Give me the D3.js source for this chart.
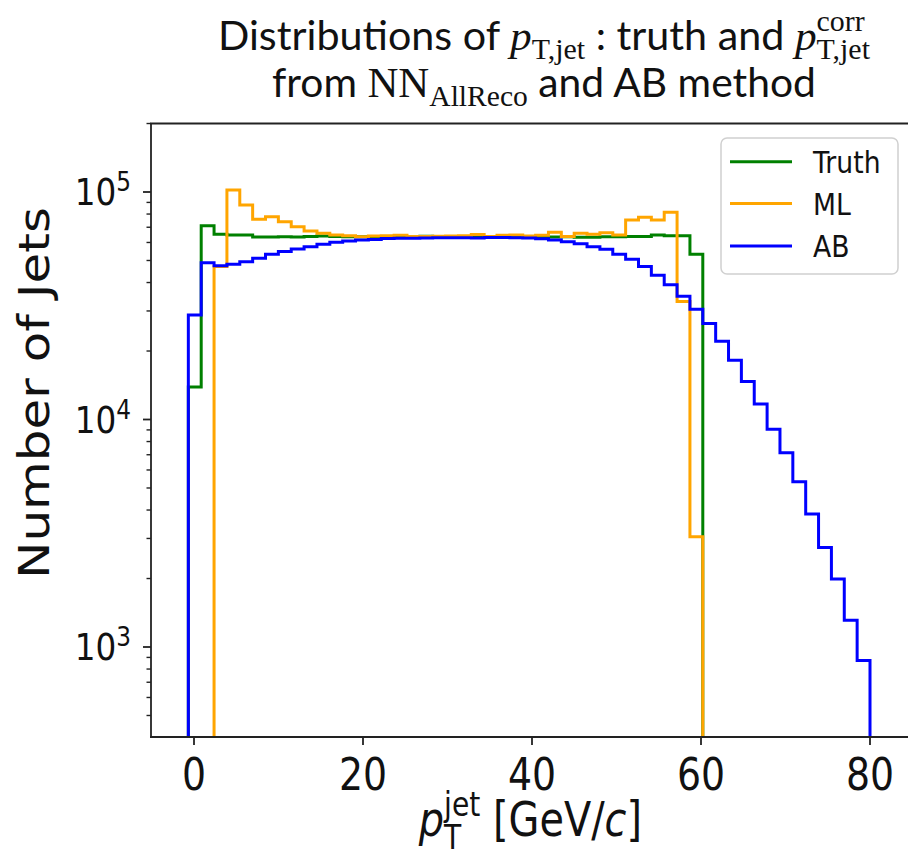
<!DOCTYPE html>
<html><head><meta charset="utf-8">
<script src="https://cdn.jsdelivr.net/npm/d3@7"></script>
<style>body{margin:0;background:#fff} svg{display:block} text{white-space:pre}</style>
</head><body>
<svg id="chart" width="908" height="853"></svg>
<script>
// ---------- data ----------
const binStart = -0.67, binEnd = 80.0, nBins = 53;
const truthCounts = [13900,71000,65200,64700,64700,63400,63400,63600,63400,63800,
  64000,63700,63500,63600,63800,63500,63700,63600,63900,63500,
  63700,63600,63500,63700,63600,63400,63600,63500,63400,63500,
  63300,63200,63600,63600,63700,63700,64700,64200,64200,53200,
  0,0,0,0,0,0,0,0,0,0,0,0,0];
const mlCounts = [0,0,47000,102000,87700,75900,77800,74000,70300,67400,
  65800,64700,64300,63600,64000,64300,64500,63800,63700,63900,
  64000,64300,65000,63700,64500,64700,64000,64500,66600,63700,
  65800,65200,66200,64700,75300,77400,75300,81500,33000,3050,
  0,0,0,0,0,0,0,0,0,0,0,0,0];
const abCounts = [28800,48900,47400,48100,49400,51100,53300,54700,56100,57500,
  58900,60100,60900,61500,61900,62400,62600,62600,62800,63000,
  63000,62900,62800,63100,63100,62900,62700,62300,61500,60500,
  59300,57500,56000,53200,50600,47100,43100,39100,34800,30500,
  26400,22100,18200,14700,11700,9070,7150,5320,3840,2740,
  1990,1310,873];
const seriesNames = ["Truth","ML","AB"];
const seriesColors = ["green","orange","blue"];
const xTicks = [0,20,40,60,80];
const yTickExps = [3,4,5];

// ---------- setup ----------
const svg = d3.select("#chart");
const C = 0.86; // horizontal squeeze of the original figure
const x = d3.scaleLinear().domain([0,80]).range([194,870]);
const y = d3.scaleLog().domain([1e3,1e5]).range([647,192]);
const L = 151, R = 910, T = 123.5, B = 737;
const edges = d3.range(nBins+1).map(i => binStart + i*(binEnd-binStart)/nBins);

svg.append("defs").append("clipPath").attr("id","clip")
  .append("rect").attr("x",L).attr("y",T).attr("width",R-L).attr("height",B-T);

// ---------- histograms ----------
const allSeries = [truthCounts, mlCounts, abCounts];
const line = d3.line().x(d=>d[0]).y(d=>d[1]).curve(d3.curveLinear);
const below = B + 20;
allSeries.forEach((counts,si) => {
  const pts = [[x(edges[0]), below]];
  counts.forEach((v,i) => {
    const yy = v>0 ? y(v) : below;
    pts.push([x(edges[i]), yy],[x(edges[i+1]), yy]);
  });
  pts.push([x(edges[nBins]), below]);
  svg.append("path").attr("clip-path","url(#clip)")
    .attr("d", line(pts)).attr("fill","none")
    .attr("stroke", seriesColors[si]).attr("stroke-width",3)
    .attr("stroke-linejoin","miter");
});

// ---------- frame & ticks ----------
const ax = svg.append("g").attr("stroke","#222").attr("stroke-width",1.8);
ax.append("line").attr("x1",L).attr("x2",L).attr("y1",T).attr("y2",B+0.9);
ax.append("line").attr("x1",L-0.9).attr("x2",R).attr("y1",B).attr("y2",B);
ax.append("line").attr("x1",L-0.9).attr("x2",R).attr("y1",T).attr("y2",T);
xTicks.forEach(t => ax.append("line").attr("x1",x(t)).attr("x2",x(t)).attr("y1",B).attr("y2",B+8));
yTickExps.forEach(e => ax.append("line").attr("x1",L-8).attr("x2",L).attr("y1",y(Math.pow(10,e))).attr("y2",y(Math.pow(10,e))));
const yDomLo = y.invert(B), yDomHi = y.invert(T);
[2,3].forEach(e => d3.range(1,10).forEach(m => {
  const v = m*Math.pow(10,e);
  if (m===1 || v<yDomLo || v>yDomHi) return;
  ax.append("line").attr("x1",L-4.5).attr("x2",L).attr("y1",y(v)).attr("y2",y(v)).attr("stroke-width",1.4);
}));
[4,5].forEach(e => d3.range(2,10).forEach(m => {
  const v = m*Math.pow(10,e);
  if (v<yDomLo || v>yDomHi) return;
  ax.append("line").attr("x1",L-4.5).attr("x2",L).attr("y1",y(v)).attr("y2",y(v)).attr("stroke-width",1.4);
}));

// ---------- text helper ----------
function build(parent, segs) {
  const g = parent.append("g");
  let cx = 0;
  function add(s, at) {
    const t = g.append("text").attr("x",at).attr("y",s.dy||0)
      .attr("font-family", s.f).attr("font-size", s.size)
      .attr("font-style", s.it ? "italic":"normal").attr("fill","#111").text(s.t);
    return t.node().getComputedTextLength();
  }
  segs.forEach(s => {
    if (s.stack) { const w1 = add(s.sub,cx), w2 = add(s.sup,cx); cx += Math.max(w1,w2); }
    else cx += add(s,cx);
  });
  return g;
}
function fit(g, left, right, baseline) {
  const bb = g.node().getBBox();
  const sx = (right-left)/bb.width;
  g.attr("transform", `translate(${left - bb.x*sx},${baseline}) scale(${sx},1)`);
}
function place(g, anchorX, baseline, align) {
  const bb = g.node().getBBox();
  let off = align==="middle" ? bb.x + bb.width/2 : align==="end" ? bb.x+bb.width : bb.x;
  g.attr("transform", `translate(${anchorX - off*C},${baseline}) scale(${C},1)`);
}

// ---------- tick labels ----------
const DJ = "DejaVu Sans";
xTicks.forEach(t => {
  const g = build(svg, [{t:String(t), f:DJ, size:44}]);
  place(g, x(t), 790, "middle");
});
yTickExps.forEach(e => {
  const g = build(svg, [{t:"10", f:DJ, size:38},{t:String(e), f:DJ, size:27, dy:-14}]);
  place(g, 131, y(Math.pow(10,e)) + 13, "end");
});

// ---------- axis labels ----------
const xl = build(svg, [
  {t:"p", f:DJ, size:48, it:true},
  {stack:true, sub:{t:"T", f:DJ, size:34, dy:13}, sup:{t:"jet", f:DJ, size:34, dy:-20}},
  {t:" [GeV/", f:DJ, size:48},{t:"c", f:DJ, size:48, it:true},{t:"]", f:DJ, size:48}]);
fit(xl, 418, 642, 836);

svg.append("text").attr("transform",`translate(49,393) scale(${C},1) rotate(-90)`)
  .attr("text-anchor","middle").attr("font-family",DJ).attr("font-size",50)
  .attr("fill","#111").text("Number of Jets");

// ---------- title ----------
const TF = "Lato", MF = "Liberation Serif";
const t1 = build(svg, [
  {t:"Distributions of ", f:TF, size:40},
  {t:"p", f:MF, size:42, it:true},
  {t:"T,jet", f:MF, size:29, dy:9},
  {t:" : truth and ", f:TF, size:40},
  {t:"p", f:MF, size:42, it:true},
  {stack:true, sub:{t:"T,jet", f:MF, size:29, dy:9}, sup:{t:"corr", f:MF, size:29, dy:-19}}]);
fit(t1, 218, 870, 50);
const t2 = build(svg, [
  {t:"from ", f:TF, size:40},
  {t:"NN", f:MF, size:42},
  {t:"AllReco", f:MF, size:29, dy:9},
  {t:" and AB method", f:TF, size:40}]);
fit(t2, 272, 816, 97);

// ---------- legend ----------
const lg = svg.append("g");
lg.append("rect").attr("x",721).attr("y",138).attr("width",177).attr("height",136)
  .attr("rx",6).attr("fill","#fff").attr("fill-opacity",0.8)
  .attr("stroke","#d0d0d0").attr("stroke-width",1.5);
const legY = [161.7, 203.5, 246];
seriesNames.forEach((n,i) => {
  lg.append("line").attr("x1",730).attr("x2",792).attr("y1",legY[i]).attr("y2",legY[i])
    .attr("stroke",seriesColors[i]).attr("stroke-width",3);
  lg.append("text").attr("transform",`translate(813,${legY[i]+11}) scale(${C},1)`)
    .attr("font-family",DJ).attr("font-size",31).attr("fill","#111").text(n);
});
</script>
</body></html>
